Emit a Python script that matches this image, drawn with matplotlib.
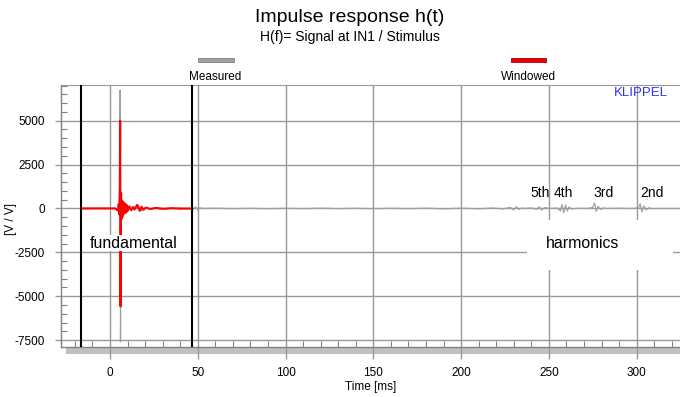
import matplotlib
matplotlib.use("Agg")
import matplotlib.pyplot as plt
import matplotlib.patches as mpatches
from matplotlib.ticker import MultipleLocator

plt.rcParams['font.family'] = ['Liberation Sans', 'DejaVu Sans']

# === data ===
measured_t = [-16.3, -5, 3, 4.5, 5.2, 5.6, 5.8, 6.0, 6.3, 6.7,
              7.2, 8, 9, 10, 11, 12.5, 14, 16, 18, 20,
              23, 27, 32, 38, 44, 48, 49, 50, 51, 53,
              60, 70, 80, 90, 100, 110, 120, 130, 140, 150,
              160, 170, 180, 190, 200, 210, 218, 224, 228, 230,
              231.5, 233, 234.5, 236, 240, 243, 244.5, 246, 247.5, 250,
              255, 256.5, 257.5, 258.5, 259.5, 260.5, 261.5, 263, 266, 272,
              275, 276, 277, 278, 279.5, 281, 283, 290, 298, 301,
              302, 303, 304, 305.5, 307, 309, 312, 318, 324.7]
measured_v = [0, 10, 0, -100, 300, 1500, 6750, -7600, 900, -500,
              400, -300, 250, -200, 150, -100, 100, 180, -120, 60,
              -40, 30, -20, 20, -10, 0, 80, -90, 40, 0,
              15, -10, 10, -15, 10, -10, 15, -10, 10, -15,
              10, -10, 15, -20, 15, -20, 25, -30, 60, -80,
              90, -60, 30, 0, 30, -50, 100, -90, 50, 0,
              20, -150, 220, -240, 200, -150, 80, -30, 10, 0,
              60, 320, -160, 120, -60, 30, 0, 10, 0, 40,
              260, -200, 150, -80, 40, -10, 0, 0, 0]

windowed_t = [-16.3, 3, 4.5, 5.0, 5.4, 5.6, 5.8, 6.0, 6.3, 6.6,
              6.9, 7.2, 7.6, 8.0, 8.5, 9.0, 9.5, 10.0, 11.0, 12.0,
              13.0, 14.0, 15.5, 17.0, 18.0, 19.0, 20.5, 23, 26, 30,
              35, 40, 47.0]
windowed_v = [0, 0, -120, 250, -350, 1200, 5000, -5580, 900, -600,
              450, -450, 350, -300, 280, -250, 200, -150, 120, -100,
              80, -60, 200, -140, 100, -80, 50, -30, 30, -20,
              15, -10, 0]

window_limits = [-16.3, 47.0]

harmonic_labels = ['5th', '4th', '3rd', '2nd']
harmonic_label_t = [244.9, 258.0, 281.4, 308.7]

x_ticks = [0, 50, 100, 150, 200, 250, 300]
y_ticks = [-7500, -5000, -2500, 0, 2500, 5000]

# === figure ===
fig = plt.figure(figsize=(6.8, 3.97), dpi=100)
ax = fig.add_axes([61 / 680, 1 - 347 / 397, 619 / 680, 262 / 397])
ax.set_xlim(-27.9, 324.7)
ax.set_ylim(-7894, 7034)
ax.set_axisbelow(True)

grid_c = '#999999'
ax.set_xticks(x_ticks)
ax.set_yticks(y_ticks)
ax.set_yticklabels([str(v) for v in y_ticks])
ax.xaxis.set_minor_locator(MultipleLocator(10))
ax.yaxis.set_minor_locator(MultipleLocator(500))
ax.grid(True, which='major', color=grid_c, lw=1.0)
ax.tick_params(axis='x', which='major', direction='out', length=8.6, width=1.0,
               color=grid_c, pad=5.8, labelsize=8.5)
ax.tick_params(axis='y', which='major', direction='out', length=4.3, width=1.0,
               color=grid_c, pad=7.2, labelsize=8.5)
ax.tick_params(axis='x', which='minor', direction='in', length=4.5, width=0.8, color='#808080')
ax.tick_params(axis='y', which='minor', direction='in', length=4.3, width=0.8, color='#808080')

for side in ['left', 'bottom']:
    ax.spines[side].set_color('#808080')
    ax.spines[side].set_linewidth(1.0)
ax.spines['top'].set_color(grid_c)
ax.spines['right'].set_visible(False)

# scroll bar under the x axis
ax.add_patch(mpatches.Rectangle((5 / 619, -7 / 262), 1 - 5 / 619, 7 / 262,
                                transform=ax.transAxes, clip_on=False,
                                color='#c0c0c0', lw=0, zorder=0.4))

# traces
ax.plot(measured_t, measured_v, color='#a0a0a0', lw=0.9, zorder=2)
ax.plot(windowed_t, windowed_v, color='#ff0000', lw=1.5, zorder=3)
for t in window_limits:
    ax.axvline(t, color='black', lw=1.5, zorder=4)

# annotations
ax.text(13.7, -1972, 'fundamental', fontsize=11.4, ha='center', va='center', zorder=6,
        bbox=dict(boxstyle='square,pad=0.05', fc='white', ec='none'))
ax.add_patch(mpatches.Rectangle((466 / 619, 77 / 262), 146 / 619, 50 / 262,
                                transform=ax.transAxes, color='white', lw=0, zorder=1))
ax.text(269.4, -1989, 'harmonics', fontsize=11.4, ha='center', va='center', zorder=6)
for lab, t in zip(harmonic_labels, harmonic_label_t):
    ax.text(t, 878, lab, fontsize=10, ha='center', va='center', zorder=6)

ax.set_xlabel('Time [ms]', fontsize=8.5)
ax.set_ylabel('[V / V]', fontsize=8.5)
ax.yaxis.set_label_coords(-44 / 619, (347 - 219) / 262)
ax.xaxis.set_label_coords(0.5, -(381 - 347) / 262)

# header
fig.text(350 / 680, 1 - 18 / 397, 'Impulse response h(t)', fontsize=14, ha='center', va='center')
fig.text(350 / 680, 1 - 37.5 / 397, 'H(f)= Signal at IN1 / Stimulus', fontsize=10,
         ha='center', va='center')
fig.patches.append(mpatches.Rectangle((198 / 680, 1 - 62 / 397), 36 / 680, 4 / 397,
                                      transform=fig.transFigure, fc='#a0a0a0', ec='#808080', lw=0.6))
fig.patches.append(mpatches.Rectangle((511 / 680, 1 - 62 / 397), 35 / 680, 4 / 397,
                                      transform=fig.transFigure, fc='#ee0000', ec='#a00000', lw=0.6))
fig.text(215 / 680, 1 - 77.5 / 397, 'Measured', fontsize=8.5, ha='center', va='center')
fig.text(528 / 680, 1 - 77.5 / 397, 'Windowed', fontsize=8.5, ha='center', va='center')
fig.text(641 / 680, 1 - 93 / 397, 'KLIPPEL', fontsize=9.5, ha='center', va='center',
         color='#3030ff')

fig.savefig('out.png', dpi=100)
